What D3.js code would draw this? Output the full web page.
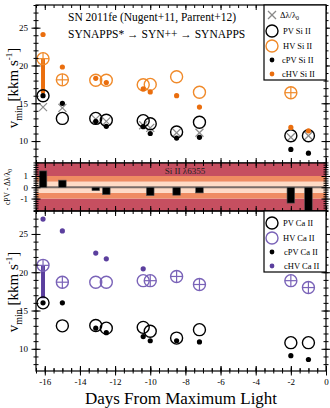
<!DOCTYPE html>
<html>
<head>
<meta charset="utf-8">
<script src="https://cdn.jsdelivr.net/npm/d3@7.9.0/dist/d3.min.js"></script>
<style>
  body { margin: 0; background: #fff; }
  svg { font-family: "Liberation Serif", serif; }
</style>
</head>
<body>
<svg id="chart" width="330" height="408"></svg>
<script>
// epochs (days from max light)
const days = [-16.1, -15.0, -13.1, -12.5, -10.4, -10.0, -8.5, -7.2, -2.0, -1.0];

// Si II
const siDelta = [14.5, 14.4, 12.9, 12.6, 12.1, 11.75, 11.1, 11.1, 10.5, 10.7];
const siPV    = [16.0, 13.0, 13.0, 12.75, 12.7, 12.3, 11.2, 12.5, 10.7, 10.7];
const siHV    = [20.9, 18.1, 18.05, 18.05, 17.45, 17.5, 18.5, 16.45, 16.4, null];
const siHVplus = [1, 1, 0, 0, 0, 0, 0, 0, 1, 0];
const siCPV   = [16.0, 15.0, 12.6, 11.95, 11.9, 11.0, 10.4, 10.5, 8.9, 8.4];
const siCHV   = [24.1, 19.8, 18.3, 17.75, 16.9, 16.5, 16.0, 14.5, 11.8, 11.35];
const siRange = [[-16.1, 16.3, 20.9]];

// cPV - dl/l0 residuals
const siDiff = [1.45, 0.63, -0.3, -0.65, null, -0.74, -0.7, -0.5, -1.4, -2.5];
const bands = [[-3, -1], [-1, -0.5], [-0.5, 0.5], [0.5, 1], [1, 3]];

// Ca II
const caPV    = [16.0, 13.0, 13.05, 12.7, 12.8, 12.3, 11.4, 12.5, 10.8, 10.8];
const caHV    = [20.9, 18.7, 18.7, 18.7, 18.9, 18.9, 19.45, 18.4, 18.9, 18.0];
const caHVplus = [1, 1, 0, 0, 0, 1, 1, 1, 1, 1];
const caCPV   = [16.0, 16.0, 12.7, 12.1, 11.6, 11.05, 11.05, 10.9, 9.1, 8.6];
const caCHV   = [26.95, 25.4, 22.5, 21.75, 20.45, null, null, null, null, null];
const caRange = [[-16.1, 16.6, 20.9]];

const xTicks = [-16, -14, -12, -10, -8, -6, -4, -2, 0];
const vTicks = [10, 15, 20, 25];
const dTicks = [-1, 0, 1];

const orange = "#ea6e0e", orangeLt = "#f08a2a";
const purple = "#5b3f9e", purpleLt = "#7a63b8";
const grey = "#8a8a8a";

const svg = d3.select("#chart");
const L = 36, R = 326;
const x = d3.scaleLinear().domain([-16.5, 0]).range([L, R]);
const yTop = d3.scaleLinear().domain([7.1, 28]).range([163, 5]);
const yMid = d3.scaleLinear().domain([-2.1, 2.15]).range([211, 163]);
const yBot = d3.scaleLinear().domain([7.1, 28]).range([371, 211]);

const idx = d3.range(days.length);
const fmt = d => String(d);

// axis helper: crossing ticks
function crossAxis(g, axis, half, horiz) {
  g.call(axis);
  g.select(".domain").remove();
  if (horiz) g.selectAll(".tick line").attr("y1", -half).attr("y2", half);
  else g.selectAll(".tick line").attr("x1", -half).attr("x2", half);
  g.selectAll(".tick line").attr("stroke", "#000").attr("stroke-width", 1);
}

function frameAxes(y, top, bottom, labels, minorStep) {
  const minor = d3.range(y.domain()[0], y.domain()[1], minorStep).map(v => +(Math.ceil(v / minorStep) * minorStep).toFixed(3));
  const xMinor = d3.range(-16.5, 0.01, 0.5);
  // left
  svg.append("g").attr("transform", `translate(${L},0)`)
    .call(g => crossAxis(g, d3.axisLeft(y).tickValues(minor).tickFormat(""), 2.5, false));
  svg.append("g").attr("transform", `translate(${L},0)`)
    .call(g => crossAxis(g, d3.axisLeft(y).tickValues(labels).tickSize(4).tickPadding(4).tickFormat(fmt), 4.5, false))
    .selectAll("text").attr("font-size", 9).attr("font-family", "Liberation Serif");
  // right
  svg.append("g").attr("transform", `translate(${R},0)`)
    .call(g => crossAxis(g, d3.axisRight(y).tickValues(minor).tickFormat(""), 2.5, false));
  svg.append("g").attr("transform", `translate(${R},0)`)
    .call(g => crossAxis(g, d3.axisRight(y).tickValues(labels).tickFormat(""), 4.5, false));
  // top & bottom x ticks (inward)
  [[top, 1], [bottom, -1]].forEach(([yy, dir]) => {
    svg.append("g").attr("transform", `translate(0,${yy})`)
      .call(d3.axisBottom(x).tickValues(xMinor).tickSize(3 * dir).tickFormat(""))
      .call(g => g.select(".domain").remove());
    svg.append("g").attr("transform", `translate(0,${yy})`)
      .call(d3.axisBottom(x).tickValues(xTicks).tickSize(5 * dir).tickFormat(""))
      .call(g => g.select(".domain").remove());
  });
  svg.append("rect").attr("x", L).attr("y", top).attr("width", R - L).attr("height", bottom - top)
    .attr("fill", "none").attr("stroke", "#000").attr("stroke-width", 1.2);
}

function crossMark(g, cx, cy, s, col, w) {
  g.append("line").attr("x1", cx - s).attr("x2", cx + s).attr("y1", cy - s).attr("y2", cy + s).attr("stroke", col).attr("stroke-width", w);
  g.append("line").attr("x1", cx - s).attr("x2", cx + s).attr("y1", cy + s).attr("y2", cy - s).attr("stroke", col).attr("stroke-width", w);
}

function hvCircle(g, cx, cy, col, plus) {
  g.append("circle").attr("cx", cx).attr("cy", cy).attr("r", 6).attr("fill", "none").attr("stroke", col).attr("stroke-width", 1.4);
  if (plus) {
    g.append("line").attr("x1", cx - 6).attr("x2", cx + 6).attr("y1", cy).attr("y2", cy).attr("stroke", col).attr("stroke-width", 1.2);
    g.append("line").attr("x1", cx).attr("x2", cx).attr("y1", cy - 6).attr("y2", cy + 6).attr("stroke", col).attr("stroke-width", 1.2);
  }
}

// ---------- top panel: Si II ----------
const gT = svg.append("g");
siRange.forEach(([d, lo, hi]) => gT.append("line").attr("x1", x(d)).attr("x2", x(d))
  .attr("y1", yTop(lo)).attr("y2", yTop(hi)).attr("stroke", orange).attr("stroke-width", 4));
idx.forEach(i => { if (siHV[i] != null) hvCircle(gT, x(days[i]), yTop(siHV[i]), orangeLt, siHVplus[i]); });
idx.forEach(i => crossMark(gT, x(days[i]), yTop(siDelta[i]), 4, grey, 1.2));
idx.forEach(i => gT.append("circle").attr("cx", x(days[i])).attr("cy", yTop(siPV[i])).attr("r", 6)
  .attr("fill", "none").attr("stroke", "#000").attr("stroke-width", 1.4));
idx.forEach(i => gT.append("circle").attr("cx", x(days[i])).attr("cy", yTop(siCPV[i])).attr("r", 2.6).attr("fill", "#000"));
idx.forEach(i => gT.append("circle").attr("cx", x(days[i])).attr("cy", yTop(siCHV[i])).attr("r", 2.6).attr("fill", orange));
frameAxes(yTop, 5, 163, vTicks, 1);

gT.append("text").attr("x", 68).attr("y", 21).attr("font-size", 11.5).text("SN 2011fe (Nugent+11, Parrent+12)");
gT.append("text").attr("x", 68).attr("y", 38).attr("font-size", 11.5).text("SYNAPPS* \u2192 SYN++ \u2192 SYNAPPS");

function vLabel(cy) {
  const t = svg.append("text").attr("transform", `translate(18,${cy}) rotate(-90)`)
    .attr("text-anchor", "middle").attr("font-size", 15);
  t.append("tspan").text("v");
  t.append("tspan").attr("font-size", 10).attr("dy", 4).text("min");
  t.append("tspan").attr("dy", -4).text(" [kkm s");
  t.append("tspan").attr("font-size", 9).attr("dy", -6).text("-1");
  t.append("tspan").attr("dy", 6).text("]");
}
vLabel(88);

function legend(top, h, entries) {
  const g = svg.append("g");
  g.append("rect").attr("x", 264).attr("y", top).attr("width", R - 264).attr("height", h)
    .attr("fill", "#fff").attr("stroke", "#000").attr("stroke-width", 1.2);
  entries.forEach(e => {
    const mx = 272, my = e.y;
    if (e.type === "x") crossMark(g, mx, my, 4, grey, 1.2);
    else if (e.type === "ring") g.append("circle").attr("cx", mx).attr("cy", my).attr("r", 6).attr("fill", "none").attr("stroke", e.col).attr("stroke-width", 1.4);
    else g.append("circle").attr("cx", mx).attr("cy", my).attr("r", 2.4).attr("fill", e.col);
    const t = g.append("text").attr("x", e.tx || 283).attr("y", my + 3).attr("font-size", 8.5);
    if (e.type === "x") {
      t.append("tspan").text("\u0394\u03bb/\u03bb");
      t.append("tspan").attr("font-size", 6).attr("dy", 2).text("0");
    } else t.text(e.label);
  });
}
legend(5, 75, [
  { y: 15, type: "x", tx: 280 },
  { y: 31, type: "ring", col: "#000", label: "PV Si II" },
  { y: 46, type: "ring", col: orangeLt, label: "HV Si II" },
  { y: 60, type: "dot", col: "#000", label: "cPV Si II", tx: 282 },
  { y: 74, type: "dot", col: orange, label: "cHV Si II", tx: 282 }
]);

// ---------- middle panel: residuals ----------
const gM = svg.append("g");
const bandCol = ["#c64f60", "#ef8c62", "#fedbc6", "#ef8c62", "#c64f60"];
bands.forEach((b, i) => {
  const y0 = yMid(Math.min(b[1], 2.15)), y1 = yMid(Math.max(b[0], -2.1));
  gM.append("rect").attr("x", L).attr("y", y0).attr("width", R - L).attr("height", y1 - y0).attr("fill", bandCol[i]);
});
gM.append("line").attr("x1", L).attr("x2", R).attr("y1", yMid(0)).attr("y2", yMid(0)).attr("stroke", "#7a6d68").attr("stroke-width", 2);
idx.forEach(i => {
  if (siDiff[i] == null) return;
  const v = Math.max(siDiff[i], -2.1);
  const y0 = yMid(Math.max(v, 0)), y1 = yMid(Math.min(v, 0));
  gM.append("rect").attr("x", x(days[i]) - 3.8).attr("y", y0).attr("width", 7.6).attr("height", y1 - y0)
    .attr("fill", "#000").attr("stroke", "#555").attr("stroke-width", 0.6);
});
frameAxes(yMid, 163, 211, dTicks, 0.2);
gM.append("text").attr("x", 185).attr("y", 174).attr("text-anchor", "middle").attr("font-size", 9).attr("fill", "#222").text("Si II \u03bb6355");
const mLab = svg.append("text").attr("transform", "translate(10,187) rotate(-90)").attr("text-anchor", "middle").attr("font-size", 7.5);
mLab.append("tspan").text("cPV - \u0394\u03bb/\u03bb");
mLab.append("tspan").attr("font-size", 5.5).attr("dy", 2).text("0");

// ---------- bottom panel: Ca II ----------
const gB = svg.append("g");
caRange.forEach(([d, lo, hi]) => gB.append("line").attr("x1", x(d)).attr("x2", x(d))
  .attr("y1", yBot(lo)).attr("y2", yBot(hi)).attr("stroke", purple).attr("stroke-width", 4));
idx.forEach(i => { if (caHV[i] != null) hvCircle(gB, x(days[i]), yBot(caHV[i]), purpleLt, caHVplus[i]); });
idx.forEach(i => gB.append("circle").attr("cx", x(days[i])).attr("cy", yBot(caPV[i])).attr("r", 6)
  .attr("fill", "none").attr("stroke", "#000").attr("stroke-width", 1.4));
idx.forEach(i => gB.append("circle").attr("cx", x(days[i])).attr("cy", yBot(caCPV[i])).attr("r", 2.6).attr("fill", "#000"));
idx.forEach(i => { if (caCHV[i] != null) gB.append("circle").attr("cx", x(days[i])).attr("cy", yBot(caCHV[i])).attr("r", 2.6).attr("fill", purple); });
frameAxes(yBot, 211, 371, vTicks, 1);
vLabel(292);

legend(211, 61, [
  { y: 223, type: "ring", col: "#000", label: "PV Ca II" },
  { y: 238, type: "ring", col: purpleLt, label: "HV Ca II" },
  { y: 252, type: "dot", col: "#000", label: "cPV Ca II", tx: 284 },
  { y: 266, type: "dot", col: purple, label: "cHV Ca II", tx: 284 }
]);

// bottom x axis with labels
svg.append("g").attr("transform", "translate(0,371)")
  .call(g => crossAxis(g, d3.axisBottom(x).tickValues(d3.range(-16.5, 0.01, 0.5)).tickFormat(""), 2.5, true));
svg.append("g").attr("transform", "translate(0,371)")
  .call(g => crossAxis(g, d3.axisBottom(x).tickValues(xTicks).tickSize(5).tickPadding(3).tickFormat(fmt), 4.5, true))
  .selectAll("text").attr("font-size", 9).attr("font-family", "Liberation Serif");

svg.append("text").attr("x", 181).attr("y", 404).attr("text-anchor", "middle").attr("font-size", 17)
  .text("Days From Maximum Light");
</script>
</body>
</html>
